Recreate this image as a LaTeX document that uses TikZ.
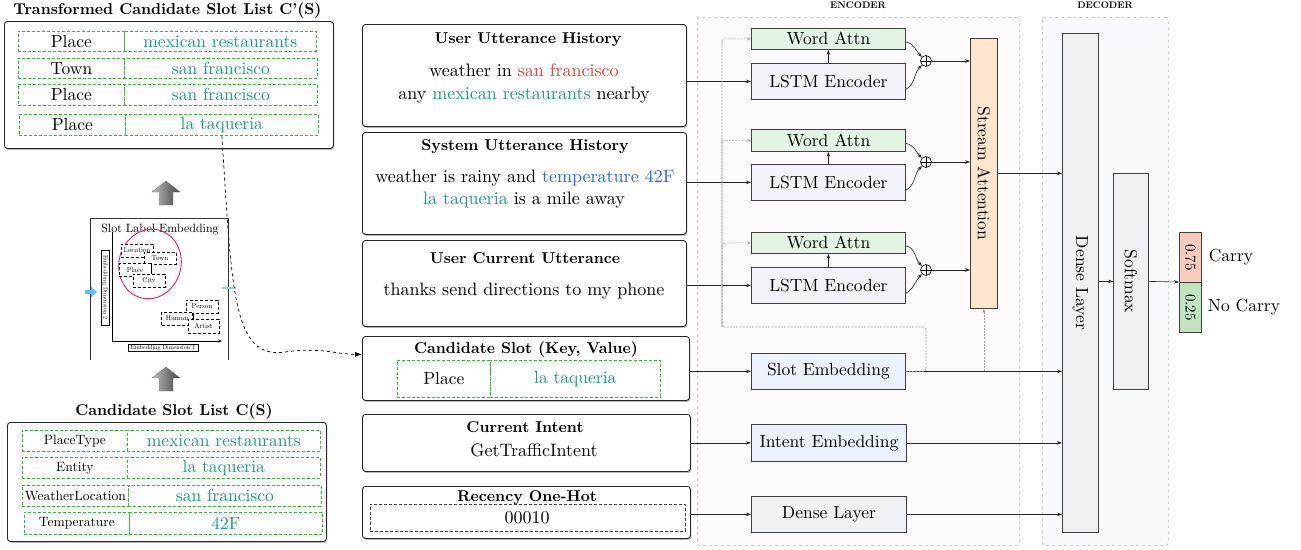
\documentclass[tikz,border=0pt]{standalone}
\usepackage{fontspec}
\setmainfont{lmroman10-regular}[Extension=.otf, BoldFont=lmroman10-bold, ItalicFont=lmroman10-italic, BoldItalicFont=lmroman10-bolditalic]
\usetikzlibrary{shapes.geometric,shadows,arrows.meta,calc}
\definecolor{tealtxt}{RGB}{26,158,130}
\definecolor{redtxt}{RGB}{240,60,40}
\definecolor{bluetxt}{RGB}{40,100,245}
\definecolor{slotgreen}{RGB}{60,185,70}
\definecolor{wafill}{RGB}{228,244,228}
\definecolor{lstmfill}{RGB}{242,242,248}
\definecolor{streamfill}{RGB}{253,229,206}
\definecolor{embfill}{RGB}{236,241,252}
\definecolor{densefill}{RGB}{240,241,244}
\definecolor{decbox}{RGB}{240,240,243}
\definecolor{p75fill}{RGB}{248,204,188}
\definecolor{p25fill}{RGB}{194,228,192}
\definecolor{encfill}{RGB}{253,250,252}
\definecolor{decfill}{RGB}{247,249,252}
\definecolor{pinkc}{RGB}{232,48,124}
\definecolor{skyb}{RGB}{100,190,240}
\newcommand\fs[1]{\fontsize{#1}{#1}\selectfont}
\newcommand\keyfont{\fs{17.5}}
\newcommand\valfont{\fs{17.5}\color{tealtxt}}
% name, x1, xdiv, x2, y1, y2, key, value
\newcommand\srow[8]{%
  \node[slotcell, minimum width={(#3)-(#2)}, minimum height={(#6)-(#5)}] (#1k) at (#2,#5) {\keyfont #7};
  \node[slotcell, minimum width={(#4)-(#3)}, minimum height={(#6)-(#5)}] (#1v) at (#3,#5) {\valfont #8};}
\begin{document}
\begin{tikzpicture}[x=1pt,y=-1pt,
  panel/.style={draw=black!85, line width=0.9pt, rounded corners=3pt, fill=white,
    drop shadow={shadow xshift=1pt,shadow yshift=-1.5pt,opacity=0.55}, inner sep=0pt, anchor=north west},
  slotcell/.style={draw=slotgreen, densely dashed, line width=0.7pt, inner sep=0pt, anchor=north west},
  encbox/.style={draw=black!75, line width=0.8pt, inner sep=0pt, anchor=north west, font=\fs{17.5}},
  arr/.style={-{Stealth[length=5pt,width=3.5pt]}, line width=0.6pt, draw=black!85},
  fb/.style={dash pattern=on 2pt off 1.2pt, draw=gray!70, line width=0.6pt, -{Stealth[length=4pt,width=3pt]}},
  region/.style={draw=gray!55, dashed, line width=0.6pt, rounded corners=2pt, anchor=north west, inner sep=0pt},
  tinybox/.style={draw=black, densely dashed, line width=0.5pt, fill=white, font=\fs{7}, inner sep=0pt},
  ttl/.style={font=\bfseries\fs{15.7}},
  body/.style={font=\fs{18}},
  plus/.style={circle, draw=black, line width=0.6pt, fill=white, minimum size=11pt, inner sep=0pt,
    path picture={\draw[line width=0.6pt] (path picture bounding box.north) -- (path picture bounding box.south)
      (path picture bounding box.west) -- (path picture bounding box.east);}}
]
\useasboundingbox (0,0) rectangle (1301,549);

% ---------- encoder / decoder regions
\node[region, fill=encfill, minimum width=322, minimum height=528] (encreg) at (697,17) {};
\node[region, fill=decfill, minimum width=126, minimum height=528] (decreg) at (1042,17) {};
\node[font=\bfseries\fs{9.5}] (enclbl) at (858,5) {ENCODER};
\node[font=\bfseries\fs{9.5}] (declbl) at (1105,5) {DECODER};

% ---------- transformed candidate slot list
\node[ttl] (ttitle) at (167.5,10.5) {Transformed Candidate Slot List C'(S)};
\node[panel, minimum width=329, minimum height=127] (tpanel) at (4,21) {};
\srow{ta}{18}{124}{316}{31}{51}{Place}{mexican restaurants}
\srow{tb}{18}{124}{317}{58}{78}{Town}{san francisco}
\srow{tc}{18}{124}{317}{84}{105}{Place}{san francisco}
\srow{td}{19}{125}{318}{114}{135}{Place}{la taqueria}

% ---------- gray up arrows
\shade[left color=gray!50, right color=black!75, draw=black!50, line width=0.4pt]
  (152,192) -- (166,181) -- (180,192) -- (173,192) -- (173,205) -- (159,205) -- (159,192) -- cycle;
\shade[left color=gray!50, right color=black!75, draw=black!50, line width=0.4pt]
  (152,378) -- (166,367) -- (180,378) -- (173,378) -- (173,391) -- (159,391) -- (159,378) -- cycle;

% ---------- slot label embedding figure
\draw[line width=0.8pt, black!80] (90,360) -- (90,218) -- (228,218) -- (228,360);
\node[font=\fs{12}] (sletitle) at (160,230) {Slot Label Embedding};
\coordinate (axo) at (112,341);
\draw[line width=0.7pt, -{Stealth[length=4pt,width=3pt]}] (112,232) -- (axo) -- (222,341);
\node[ellipse, draw=pinkc, line width=1pt, minimum width=62, minimum height=70, rotate=-15] (ell) at (150,264) {};
\node[tinybox, minimum width=32, minimum height=13] (loc) at (137,250.5) {Location};
\node[tinybox, minimum width=32, minimum height=12] (town) at (160,258) {Town};
\node[tinybox, minimum width=32, minimum height=13] (place) at (135,270) {Place};
\node[tinybox, minimum width=32, minimum height=13] (city) at (149,280.5) {City};
\draw[line width=0.5pt] (town.south -| 151,0) -- (city.north -| 151,0);
\node[tinybox, minimum width=32, minimum height=13] (person) at (202,306.5) {Person};
\node[tinybox, minimum width=31, minimum height=13] (human) at (177,318.5) {Human};
\node[tinybox, minimum width=31, minimum height=14] (artist) at (203.5,326) {Artist};
\draw[line width=0.5pt] (person.south -| 193,0) -- (artist.north -| 193,0);
\node[draw, line width=0.5pt, fill=white, font=\fs{6}, minimum width=70, minimum height=7, inner sep=0.3pt] (dim1) at (163,348) {Embedding Dimension 1};
\node[draw, line width=0.5pt, fill=white, font=\fs{6}, minimum width=75, minimum height=8, inner sep=0.3pt, rotate=-90] (dim2) at (105,287.5) {Embedding Dimension 2};
\draw[skyb, line width=4pt, -{Triangle[length=6pt,width=10pt]}] (85,292) -- (97,292);
\draw[skyb!70, line width=1.5pt] (222,288) -- (236,288);

% ---------- candidate slot list
\node[ttl] (btitle) at (174,412) {Candidate Slot List C(S)};
\node[panel, minimum width=319, minimum height=119] (bpanel) at (7,422) {};
\renewcommand\keyfont{\fs{13.5}}
\srow{ba}{22}{127}{320}{430}{451}{PlaceType}{mexican restaurants}
\srow{bb}{22}{127}{320}{457}{478}{Entity}{la taqueria}
\srow{bc}{22}{128}{321}{485}{506}{WeatherLocation}{san francisco}
\srow{bd}{24}{129}{322}{512}{534}{Temperature}{42F}
\renewcommand\keyfont{\fs{17.5}}

% ---------- middle input panels
\node[panel, minimum width=324, minimum height=102] (uuh) at (362,24) {};
\node[ttl] (uuht) at (528,40) {User Utterance History};
\node[body] (uuh1) at (524,70) {weather in \textcolor{redtxt}{san francisco}};
\node[body] (uuh2) at (524,95) {any \textcolor{tealtxt}{mexican restaurants} nearby};

\node[panel, minimum width=324, minimum height=102] (suh) at (362,132) {};
\node[ttl] (suht) at (525,147) {System Utterance History};
\node[body] (suh1) at (525,178) {weather is rainy and \textcolor{bluetxt}{temperature 42F}};
\node[body] (suh2) at (524,200) {\textcolor{tealtxt}{la taqueria} is a mile away};

\node[panel, minimum width=324, minimum height=86] (ucu) at (362,240) {};
\node[ttl] (ucut) at (525,258.5) {User Current Utterance};
\node[body] (ucu1) at (524,291) {thanks send directions to my phone};

\node[panel, minimum width=327, minimum height=64] (cslot) at (362,336) {};
\node[ttl] (cslott) at (526,350) {Candidate Slot (Key, Value)};
\srow{cs}{397}{490}{660}{360}{397}{Place}{la taqueria}

\node[panel, minimum width=328, minimum height=57] (cint) at (362,414) {};
\node[ttl] (cintt) at (525,427) {Current Intent};
\node[body] (cint1) at (534,450) {GetTrafficIntent};

\node[panel, minimum width=328, minimum height=52] (rec) at (362,486) {};
\node[ttl] (rect) at (527,498) {Recency One-Hot};
\node[draw=black!75, densely dashed, line width=0.6pt, fill=white, anchor=north west, inner sep=0pt, minimum width=315, minimum height=27] (recbox) at (370,504) {};
\node[body] (rec1) at (527,518) {00010};

% ---------- dashed transfer curve
\draw[dashed, line width=0.7pt, -{Latex[length=7pt,width=5pt]}] (tdv.south) .. controls (232,290) and (232,360) .. (285,352) .. controls (320,347) and (335,354) .. ([yshift=14pt]cslot.west);

% ---------- encoder blocks
\node[encbox, fill=wafill, minimum width=154, minimum height=21] (wa1) at (751,28) {Word Attn};
\node[encbox, fill=lstmfill, minimum width=154, minimum height=36] (lstm1) at (751,63) {LSTM Encoder};
\node[encbox, fill=wafill, minimum width=154, minimum height=22] (wa2) at (751,129) {Word Attn};
\node[encbox, fill=lstmfill, minimum width=154, minimum height=36] (lstm2) at (751,164) {LSTM Encoder};
\node[encbox, fill=wafill, minimum width=154, minimum height=21] (wa3) at (751,232) {Word Attn};
\node[encbox, fill=lstmfill, minimum width=154, minimum height=36] (lstm3) at (751,267) {LSTM Encoder};
\node[plus] (p1) at (926,61) {};
\node[plus] (p2) at (926,162) {};
\node[plus] (p3) at (926,270) {};
\node[encbox, fill=streamfill, minimum width=27, minimum height=270] (stream) at (970,38) {};
\node[rotate=-90, font=\fs{17.5}] (streamlbl) at (stream.center) {Stream Attention};
\node[encbox, fill=embfill, minimum width=154, minimum height=36] (slotemb) at (751,353) {Slot Embedding};
\node[encbox, fill=embfill, minimum width=155, minimum height=37] (intemb) at (751,424) {Intent Embedding};
\node[encbox, fill=densefill, minimum width=155, minimum height=36] (dense1) at (751,496) {Dense Layer};

% ---------- decoder blocks
\node[encbox, fill=decbox, minimum width=36, minimum height=499] (denseL) at (1062,33) {};
\node[rotate=-90, font=\fs{17.5}] (denseLlbl) at (denseL.center) {Dense Layer};
\node[encbox, fill=decbox, minimum width=35, minimum height=216] (softmax) at (1113,173) {};
\node[rotate=-90, font=\fs{17.5}] (softmaxlbl) at (softmax.center) {Softmax};
\node[encbox, fill=p75fill, minimum width=22, minimum height=50] (p75) at (1179,232) {};
\node[rotate=-90, font=\fs{15}] (p75lbl) at (p75.center) {0.75};
\node[encbox, fill=p25fill, minimum width=22, minimum height=50] (p25) at (1179,282) {};
\node[rotate=-90, font=\fs{15}] (p25lbl) at (p25.center) {0.25};
\node[font=\fs{17.5}] (carry) at (1231,257) {Carry};
\node[font=\fs{17.5}] (nocarry) at (1244,307) {No Carry};

% ---------- connectors
\draw[arr] (uuh.east |- lstm1.west) -- (lstm1.west);
\draw[arr] (suh.east |- lstm2.west) -- (lstm2.west);
\draw[arr] (ucu.east |- lstm3.west) -- (lstm3.west);
\draw[arr] (lstm1.north) -- (wa1.south);
\draw[arr] (lstm2.north) -- (wa2.south);
\draw[arr] (lstm3.north) -- (wa3.south);
\draw[arr] ([yshift=-3pt]wa1.east) to[out=-10,in=135] (p1.north west);
\draw[arr] ([yshift=-3pt]wa2.east) to[out=-10,in=135] (p2.north west);
\draw[arr] ([yshift=-3pt]wa3.east) to[out=-10,in=135] (p3.north west);
\draw[arr] ([yshift=-8pt]lstm1.east) to[out=30,in=225] (p1.south west);
\draw[arr] ([yshift=-8pt]lstm2.east) to[out=30,in=225] (p2.south west);
\draw[arr] ([yshift=-8pt]lstm3.east) to[out=30,in=225] (p3.south west);
\draw[arr] (p1.east) -- (p1.east -| stream.west);
\draw[arr] (p2.east) -- (p2.east -| stream.west);
\draw[arr] (p3.east) -- (p3.east -| stream.west);
\draw[arr] (stream.east) -- (stream.east -| denseL.west);
\draw[arr] (cslot.east |- slotemb.west) -- (slotemb.west);
\draw[arr] (slotemb.east) -- (slotemb.east -| denseL.west);
\draw[arr] (cint.east |- intemb.west) -- (intemb.west);
\draw[arr] (intemb.east) -- (intemb.east -| denseL.west);
\draw[arr] (rec.east |- dense1.west) -- (dense1.west);
\draw[arr] (dense1.east) -- (dense1.east -| denseL.west);
\draw[arr] (softmax.west -| denseL.east) -- (softmax.west);
\draw[arr] (softmax.east) -- (p25.north west);

% ---------- gray feedback lines
\coordinate (fbR) at (926,327);
\coordinate (fbL) at (722,327);
\draw[fb, rounded corners=3pt] (slotemb.east) -| (fbR) -- (fbL) |- (wa1.west);
\draw[fb, rounded corners=3pt] (fbL) |- (wa2.west);
\draw[fb, rounded corners=3pt] (fbL) |- (wa3.west);
\draw[fb] (slotemb.east -| stream.south) -- (stream.south);
\end{tikzpicture}
\end{document}
